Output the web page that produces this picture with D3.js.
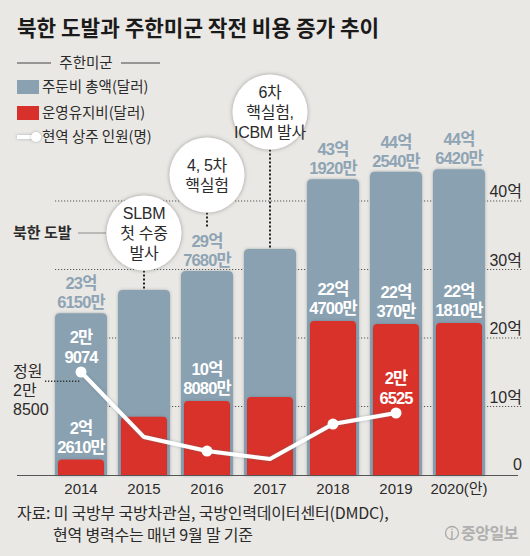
<!DOCTYPE html>
<html><head><meta charset="utf-8">
<script src="https://cdn.jsdelivr.net/npm/d3@7"></script>
<style>
html,body{margin:0;padding:0;background:#eae8e4;}
svg{display:block;font-family:"Noto Sans CJK KR","Noto Sans",sans-serif;}
.nar{font-family:"Liberation Sans","Noto Sans CJK KR",sans-serif;}
.lib{font-family:"Liberation Sans","Noto Sans CJK KR",sans-serif;}
</style></head>
<body><svg id="c" width="530" height="556"></svg>
<script>
// ---- data ----
const years = ["2014","2015","2016","2017","2018","2019","2020(안)"];
const totalCost = [23.615, 27.0, 29.768, 33.0, 43.192, 44.254, 44.642];   // 억 달러
const omCost    = [2.261, 8.5, 10.808, 11.4, 22.47, 22.037, 22.181];     // 억 달러
const troops    = [29074, 25030, 24160, 23670, 25840, 26525];            // 명 (2014-2019)
const troopDot  = [true, false, true, false, true, true];
const totalLabels = [["23억","6150만"], null, ["29억","7680만"], null, ["43억","1920만"], ["44억","2540만"], ["44억","6420만"]];
const omLabels    = [["2억","2610만"], null, ["10억","8080만"], null, ["22억","4700만"], ["22억","370만"], ["22억","1810만"]];
const troopLabels = [["2만","9074"], null, null, null, null, ["2만","6525"]];
const quota = 28500;
const quotaLabel = ["정원","2만","8500"];
const eventYears = ["2015","2016","2017"];
const eventTexts = [["SLBM","첫 수중","발사"], ["4, 5차","핵실험"], ["6차","핵실험,","ICBM 발사"]];
const yTicks = [0, 10, 20, 30, 40];
const yTickLabels = ["0","10억","20억","30억","40억"];

// ---- drawing ----
const svg = d3.select("#c");
const GRAY = "#8aa1b1", RED = "#d8302a", INK = "#2b2b2b";

const defs = svg.append("defs");
const sh = defs.append("filter").attr("id","sh").attr("filterUnits","userSpaceOnUse")
  .attr("x",0).attr("y",0).attr("width",530).attr("height",556);
sh.append("feDropShadow").attr("dx",0).attr("dy",0).attr("stdDeviation",1.6).attr("flood-color","#50606a").attr("flood-opacity",0.45);
const csh = defs.append("filter").attr("id","csh").attr("x","-30%").attr("y","-30%").attr("width","160%").attr("height","160%");
csh.append("feDropShadow").attr("dx",0).attr("dy",0).attr("stdDeviation",2.2).attr("flood-color","#777").attr("flood-opacity",0.7);

const x = d3.scaleBand().domain(years).range([49.5, 490.5]).paddingInner(0.175).paddingOuter(0.0875);
const y = d3.scaleLinear().domain([0, 40]).range([475, 201]);
const yT = d3.scaleLinear().domain([23000, 30000]).range([469.7, 357.1]);

// multi-line text helper (one text element, tspans)
function multi(g, cx, y0, lines, lh, attrs, cls) {
  const t = g.append("text").attr("x", cx).attr("y", y0).attr("class", cls || null);
  Object.entries(attrs).forEach(([k, v]) => t.attr(k, v));
  lines.forEach((s, k) => t.append("tspan").attr("x", cx).attr("dy", k === 0 ? 0 : lh).text(s));
  return t;
}

// title
svg.append("text").attr("x",17).attr("y",36).attr("font-size",21.3).attr("font-weight","bold")
  .attr("fill","#1a1a1a").text("북한 도발과 주한미군 작전 비용 증가 추이");

// legend
const lg = svg.append("g");
lg.append("line").attr("x1",17).attr("x2",51).attr("y1",63).attr("y2",63).attr("stroke","#444").attr("stroke-width",1);
lg.append("line").attr("x1",121).attr("x2",160).attr("y1",63).attr("y2",63).attr("stroke","#444").attr("stroke-width",1);
lg.append("text").attr("x",86).attr("y",68).attr("text-anchor","middle").attr("font-size",14.5).attr("fill",INK).text("주한미군");
lg.append("rect").attr("x",17).attr("y",80).attr("width",22).attr("height",14).attr("fill",GRAY);
lg.append("text").attr("x",42).attr("y",92).attr("font-size",14.5).attr("fill",INK).text("주둔비 총액(달러)");
lg.append("rect").attr("x",17).attr("y",106).attr("width",22).attr("height",14).attr("fill",RED);
lg.append("text").attr("x",42).attr("y",118).attr("font-size",14.5).attr("fill",INK).text("운영유지비(달러)");
lg.append("line").attr("x1",17).attr("x2",35).attr("y1",137).attr("y2",137).attr("stroke","#fff").attr("stroke-width",4).attr("filter","url(#sh)");
lg.append("circle").attr("cx",36).attr("cy",137).attr("r",5).attr("fill","#fff").attr("filter","url(#sh)");
lg.append("text").attr("x",42).attr("y",142).attr("font-size",14.5).attr("fill",INK).text("현역 상주 인원(명)");

// gridlines (dotted)
const grid = svg.append("g");
yTicks.filter(t => t > 0).forEach(t => {
  grid.append("line").attr("x1",55).attr("x2",522).attr("y1",y(t)).attr("y2",y(t))
    .attr("stroke","#555").attr("stroke-width",1.2).attr("stroke-dasharray","1.2,1.8");
});

// rounded-top bar path
function topRound(x0, w, yTop, yBot, r) {
  return `M${x0},${yBot}V${yTop+r}Q${x0},${yTop} ${x0+r},${yTop}H${x0+w-r}Q${x0+w},${yTop} ${x0+w},${yTop+r}V${yBot}Z`;
}

const bars = svg.append("g");
years.forEach((yr, i) => {
  const bx = x(yr), bw = x.bandwidth();
  bars.append("path").attr("d", topRound(bx, bw, y(totalCost[i]), y(0), 5)).attr("fill", GRAY).attr("filter","url(#sh)");
});
years.forEach((yr, i) => {
  const bx = x(yr) + 3, bw = x.bandwidth() - 6;
  bars.append("path").attr("d", topRound(bx, bw, y(omCost[i]), y(0), 4)).attr("fill", RED).attr("filter","url(#sh)");
});

// axis baseline
svg.append("line").attr("x1",17).attr("x2",518).attr("y1",y(0)+0.5).attr("y2",y(0)+0.5).attr("stroke","#555").attr("stroke-width",1.2);

// right tick labels
yTicks.forEach((t, i) => {
  svg.append("text").attr("x",522).attr("y",y(t) - (t === 0 ? 5 : 4)).attr("text-anchor","end")
    .attr("class","lib").attr("font-size",16).attr("fill",INK).text(yTickLabels[i]);
});

// year labels
const xAxis = d3.axisBottom(x).tickSize(0).tickPadding(0);
const xg = svg.append("g").attr("transform",`translate(0,${y(0)})`).call(xAxis);
xg.select(".domain").remove();
xg.selectAll("text").attr("font-size",15).attr("fill",INK).attr("dy",0).attr("y",19)
  .attr("font-family",'"Liberation Sans","Noto Sans CJK KR",sans-serif');

// total labels
const labAttr = {"text-anchor":"middle","font-size":16.5,"font-weight":"bold","letter-spacing":-0.9};
years.forEach((yr, i) => {
  const L = totalLabels[i]; if (!L) return;
  const cx = x(yr) + x.bandwidth()/2, top = y(totalCost[i]);
  multi(svg, cx, top - 24, L, 19, Object.assign({}, labAttr, {"fill":"#8ea4b4"}), "nar");
});
// O&M labels
years.forEach((yr, i) => {
  const L = omLabels[i]; if (!L) return;
  const cx = x(yr) + x.bandwidth()/2, top = y(omCost[i]);
  multi(svg, cx, top - 26, L, 19, Object.assign({}, labAttr, {"fill":"#fff"}), "nar");
});

// quota dotted line + label
const qx0 = 45, qx1 = x(years[0]) + x.bandwidth()/2;
svg.append("line").attr("x1",qx0).attr("x2",qx1).attr("y1",yT(quota)).attr("y2",yT(quota))
  .attr("stroke","#333").attr("stroke-width",1.3).attr("stroke-dasharray","1.3,1.7");
multi(svg, 13, 377, quotaLabel, 19, {"font-size":16,"fill":INK}, "lib");

// troop line
const tpts = troops.map((v, i) => [x(years[i]) + x.bandwidth()/2, yT(v)]);
svg.append("path").attr("d", d3.line()(tpts)).attr("fill","none").attr("stroke","#fff")
  .attr("stroke-width",4).attr("stroke-linejoin","round").attr("filter","url(#sh)");
tpts.forEach((p, i) => {
  if (troopDot[i]) svg.append("circle").attr("cx",p[0]).attr("cy",p[1]).attr("r",5.5).attr("fill","#fff");
});
troops.forEach((v, i) => {
  const L = troopLabels[i]; if (!L) return;
  multi(svg, tpts[i][0], tpts[i][1] - 29, L, 20, Object.assign({}, labAttr, {"fill":"#fff"}), "nar");
});

// event bubbles
const bubbleY = [233, 175, 112];
const bubbleR = 37.5;
svg.append("text").attr("x",13).attr("y",238).attr("font-size",15).attr("font-weight","bold").attr("fill",INK).text("북한 도발");
svg.append("line").attr("x1",78).attr("x2",106).attr("y1",233).attr("y2",233).attr("stroke","#aaa").attr("stroke-width",1.5);
eventYears.forEach((yr, j) => {
  const i = years.indexOf(yr);
  const cx = x(yr) + x.bandwidth()/2, cy = bubbleY[j];
  const barTop = y(totalCost[i]);
  const end = totalLabels[i] ? barTop - 44 : barTop;
  svg.append("line").attr("x1",cx).attr("x2",cx).attr("y1",cy + bubbleR).attr("y2",end)
    .attr("stroke","#222").attr("stroke-width",2).attr("stroke-dasharray","2,2");
  svg.append("circle").attr("cx",cx).attr("cy",cy).attr("r",bubbleR).attr("fill","#fff").attr("filter","url(#csh)");
  const lines = eventTexts[j], n = lines.length;
  multi(svg, cx, cy + 6 - (n-1)/2*20, lines, 20, {"text-anchor":"middle","font-size":16,"fill":INK,"letter-spacing":-0.3}, "lib");
});

// source
svg.append("text").attr("x",17).attr("y",519).attr("font-size",16).attr("fill",INK).attr("letter-spacing",-0.2)
  .text("자료: 미 국방부 국방차관실, 국방인력데이터센터(DMDC),");
svg.append("text").attr("x",53).attr("y",541).attr("font-size",16).attr("fill",INK).attr("letter-spacing",-0.2)
  .text("현역 병력수는 매년 9월 말 기준");
// logo
svg.append("circle").attr("cx",452).attr("cy",533).attr("r",6.5).attr("fill","none").attr("stroke","#aaa").attr("stroke-width",1.3);
svg.append("text").attr("x",452).attr("y",537).attr("text-anchor","middle").attr("font-size",9).attr("font-weight","bold").attr("fill","#aaa").text("j");
svg.append("text").attr("x",461).attr("y",539).attr("font-size",16).attr("font-weight","bold").attr("fill","#b0b0b0").attr("letter-spacing",-0.5).text("중앙일보");
</script></body></html>
